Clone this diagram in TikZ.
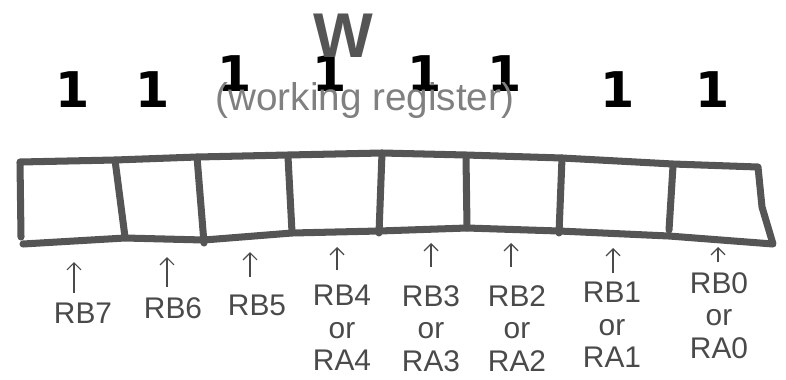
\documentclass[tikz,border=0pt]{standalone}
\usepackage{fontspec}
\setmainfont{Liberation Sans}
\newfontfamily\digitfont{DejaVu Sans}
\usepackage{xcolor}
\usetikzlibrary{arrows.meta}

\definecolor{marker}{HTML}{555555}
\definecolor{pencil}{HTML}{4A4A4A}

\tikzset{
    wall/.style={draw=marker, line width=4pt, line cap=round, line join=round},
    bit/.style={font=\digitfont\bfseries\fontsize{28}{28}\selectfont, text=black, inner sep=0pt},
    pin/.style={draw=pencil, line width=0.7pt, -{Straight Barb[length=4pt,width=8pt]}},
    pinlabel/.style={font=\fontsize{17}{18.5}\selectfont, text=pencil, align=center, inner sep=0pt}
}

\begin{document}
\begin{tikzpicture}[x=0.02cm, y=-0.02cm]
    \useasboundingbox (0,0) rectangle (786,379);

    \draw[wall] (21,237) -- (20,162) -- (115,160) -- (197,157) -- (288,155) -- (382,153)
        -- (466,155) -- (562,158) -- (673,164) -- (758,167) -- (762,207) -- (773,244)
        -- (669,236) -- (559,231) -- (467,228) -- (379,231) -- (292,233) -- (204,240)
        -- (125,238) -- (23,244);
    \foreach \tx/\ty/\bx/\by in {115/160/125/237, 197/157/204/243, 288/157/292/232,
                                 382/153/379/233, 466/157/467/228, 562/158/559/233,
                                 673/166/669/230}{
            \draw[wall] (\tx,\ty) -- (\bx,\by);
        }

    \foreach \i/\x/\y in {7/73/90, 6/153/90, 5/235/74, 4/330/74,
                          3/425/74, 2/505/74, 1/618/90, 0/713/90}{
            \node[bit] (bit\i) at (\x,\y) {1};
        }

    \node[font=\bfseries\fontsize{36}{36}\selectfont, text=marker, inner sep=0pt] (wreg) at (343,36) {W};
    \node[font=\fontsize{22}{22}\selectfont, text=pencil!70, inner sep=0pt, anchor=base] (wname) at (365,110) {(working register)};

    \foreach \i/\x/\tip/\tail/\lx/\ly/\txt in {7/74/262/293/83/303/{RB7},
                                              6/167/257/287/173/297/{RB6},
                                              5/250/252/277/257/295/{RB5},
                                              4/337/247/270/342/285/{RB4\\or\\RA4},
                                              3/431/243/267/431/285/{RB3\\or\\RA3},
                                              2/511/243/267/517/285/{RB2\\or\\RA2},
                                              1/613/248/273/612/282/{RB1\\or\\RA1},
                                              0/718/247/262/719/272/{RB0\\or\\RA0}}{
            \coordinate (tip\i) at (\x,\tip);
            \coordinate (tail\i) at (\x,\tail);
            \node[pinlabel, anchor=north] (rb\i) at (\lx,\ly) {\txt};
            \draw[pin] (tail\i) -- (tip\i);
        }
\end{tikzpicture}
\end{document}
